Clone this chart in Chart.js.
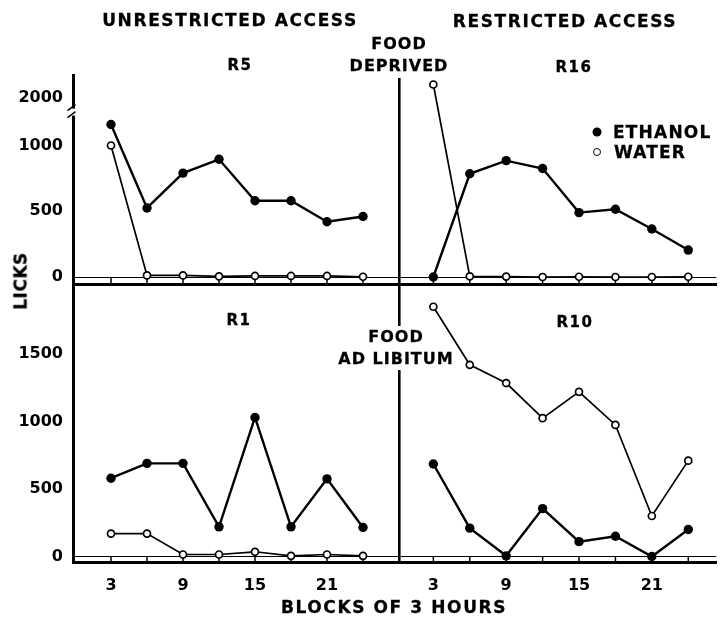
<!DOCTYPE html>
<html>
<head>
<meta charset="utf-8">
<script src="https://cdn.jsdelivr.net/npm/chart.js"></script>
<style>
html,body{margin:0;padding:0;background:#fff;}
#wrap{position:relative;width:722px;height:624px;overflow:hidden;background:#fff;}
canvas{position:absolute;left:0;top:0;}
.t{position:absolute;font-family:"DejaVu Sans",sans-serif;font-weight:bold;color:#000;white-space:nowrap;transform:translate(-50%,-50%);line-height:1;-webkit-text-stroke:0.3px #000;}
.big{font-size:17px;letter-spacing:1.6px;}
.mid{font-size:16px;letter-spacing:1px;}
.lab{font-size:15px;letter-spacing:1.5px;}
.leg{position:absolute;font-family:"DejaVu Sans",sans-serif;font-weight:bold;font-size:17px;letter-spacing:1.2px;color:#000;white-space:nowrap;transform:translateY(-50%);line-height:1;-webkit-text-stroke:0.3px #000;}
.dot{position:absolute;border-radius:50%;box-sizing:border-box;transform:translate(-50%,-50%);}
.gap{position:absolute;background:#fff;}
</style>
</head>
<body>
<div id="wrap">
<canvas id="cTL" width="722" height="624"></canvas>
<canvas id="cTR" width="722" height="624"></canvas>
<canvas id="cBL" width="722" height="624"></canvas>
<canvas id="cBR" width="722" height="624"></canvas>

<div class="gap" style="left:395px;top:326px;width:9px;height:44px;"></div>

<div class="t big" style="left:230px;top:20px;">UNRESTRICTED ACCESS</div>
<div class="t big" style="left:565px;top:21px;">RESTRICTED ACCESS</div>
<div class="t mid" style="left:399px;top:55px;text-align:center;line-height:22px;">FOOD<br>DEPRIVED</div>
<div class="t lab" style="left:240px;top:65px;">R5</div>
<div class="t lab" style="left:574px;top:67px;">R16</div>
<div class="dot" style="left:597px;top:132px;width:9px;height:9px;background:#000;"></div>
<div class="leg" style="left:613px;top:132px;">ETHANOL</div>
<div class="dot" style="left:597px;top:152px;width:8px;height:8px;background:#fff;border:1.6px solid #000;"></div>
<div class="leg" style="left:614px;top:152px;">WATER</div>
<div class="t" style="left:21px;top:281px;font-size:17px;letter-spacing:0.5px;transform:translate(-50%,-50%) rotate(-90deg);">LICKS</div>
<div class="t lab" style="left:239px;top:320px;">R1</div>
<div class="t mid" style="left:396px;top:347px;text-align:center;line-height:21.5px;">FOOD<br>AD LIBITUM</div>
<div class="t lab" style="left:575px;top:322px;">R10</div>
<div class="t big" style="left:394px;top:607px;">BLOCKS OF 3 HOURS</div>
</div>

<script>
// ---- data ----
const hours = [3, 6, 9, 12, 15, 18, 21, 24];
const labelledHours = [3, 9, 15, 21];
const yTicksTop = [0, 500, 1000, 2000];
const yTicksBottom = [0, 500, 1000, 1500];

const r5Ethanol  = [1160, 525, 790, 895, 580, 580, 420, 460];
const r5Water    = [1000, 12, 12, 5, 8, 8, 8, 2];
const r16Ethanol = [0, 785, 885, 825, 490, 515, 365, 205];
const r16Water   = [2105, 5, 3, 0, 2, 0, 0, 2];
const r1Ethanol  = [580, 690, 690, 220, 1030, 220, 575, 215];
const r1Water    = [170, 170, 15, 15, 35, 5, 15, 5];
const r10Ethanol = [685, 210, 5, 355, 110, 150, 0, 200];
const r10Water   = [1850, 1420, 1285, 1025, 1220, 975, 300, 710];

// ---- axis with a break (values between from..to are removed) ----
class BrokenLinearScale extends Chart.LinearScale {
  static id = 'brokenLinear';
  _fold(v) {
    const b = this.options.brk;
    if (!b || v === null || v === undefined) return v;
    const gap = b.to - b.from;
    if (v >= b.to) return v - gap;
    if (v > b.from) return b.from;
    return v;
  }
  getPixelForValue(v) { return super.getPixelForValue(this._fold(v)); }
}
Chart.register(BrokenLinearScale);

const FONT = {family: 'DejaVu Sans', weight: 'bold', size: 16};

const xTickMarks = {
  id: 'xTickMarks',
  beforeDatasetsDraw(chart) {
    const {ctx, chartArea, scales: {x, y}} = chart;
    const y0 = y.getPixelForValue(0);
    ctx.save();
    ctx.strokeStyle = '#000';
    ctx.lineWidth = 1.5;
    for (const h of hours) {
      const px = x.getPixelForValue(h);
      ctx.beginPath();
      ctx.moveTo(px, y0);
      ctx.lineTo(px, chartArea.bottom);
      ctx.stroke();
    }
    ctx.restore();
  }
};

const breakMarks = {
  id: 'breakMarks',
  afterDraw(chart) {
    const {ctx, chartArea, scales: {y}} = chart;
    const yb = y.getPixelForValue(1250);
    const x0 = chartArea.left - 1.5;
    ctx.save();
    ctx.fillStyle = '#fff';
    ctx.fillRect(x0 - 4, yb - 4, 8, 7);
    ctx.strokeStyle = '#000';
    ctx.lineWidth = 1.5;
    ctx.beginPath();
    ctx.moveTo(x0 - 4, yb - 2); ctx.lineTo(x0 + 4, yb - 8);
    ctx.moveTo(x0 - 4, yb + 5); ctx.lineTo(x0 + 4, yb - 1);
    ctx.stroke();
    ctx.restore();
  }
};

function panel(id, o) {
  const XH = 40;
  const plugins = [xTickMarks];
  if (o.brk && o.showY) plugins.push(breakMarks);
  return new Chart(document.getElementById(id), {
    type: 'line',
    data: {
      datasets: [
        {
          label: 'WATER',
          data: hours.map((h, i) => ({x: h, y: o.water[i]})),
          borderColor: '#000', borderWidth: 1.7,
          pointRadius: 3.5, pointBorderWidth: 1.7,
          pointBackgroundColor: '#fff', pointBorderColor: '#000',
          tension: 0, order: 1
        },
        {
          label: 'ETHANOL',
          data: hours.map((h, i) => ({x: h, y: o.ethanol[i]})),
          borderColor: '#000', borderWidth: 2.4,
          pointRadius: 4.7, pointBorderWidth: 0,
          pointBackgroundColor: '#000', pointBorderColor: '#000',
          tension: 0, order: 2
        }
      ]
    },
    options: {
      responsive: false, animation: false, events: [],
      layout: {padding: {
        left: o.showY ? 0 : o.left,
        top: o.top,
        right: 722 - o.right,
        bottom: 624 - o.bottom - (o.showX ? XH : 0)
      }},
      plugins: {legend: {display: false}, tooltip: {enabled: false}},
      scales: {
        x: {
          type: 'linear', min: o.xMin, max: o.xMax, bounds: 'data',
          afterBuildTicks: s => { s.ticks = hours.map(v => ({value: v})); },
          afterFit: s => { s.height = o.showX ? XH : 0; },
          grid: {display: false},
          border: {display: true, color: '#000', width: 3},
          ticks: {
            display: o.showX, autoSkip: false, maxRotation: 0, padding: 6,
            color: '#000', font: FONT,
            callback: v => labelledHours.includes(v) ? String(v) : ''
          }
        },
        y: {
          type: o.brk ? 'brokenLinear' : 'linear', brk: o.brk,
          min: o.yMin, max: o.yMax, bounds: 'data',
          afterBuildTicks: s => { s.ticks = o.yTicks.map(v => ({value: v})); },
          afterFit: s => { s.width = o.showY ? o.left : 0; },
          grid: {
            display: true, drawTicks: false, lineWidth: 1,
            color: c => (c.tick && c.tick.value === 0) ? '#000' : 'rgba(0,0,0,0)'
          },
          border: {display: true, color: '#000', width: o.showY ? 3 : 2.6},
          ticks: {display: o.showY, padding: 10, color: '#000', font: FONT, callback: v => String(v)}
        }
      }
    },
    plugins
  });
}

// top: value 0 at y=277, 0.1315 px per lick; break removes 1250..1891
const brkTop = {from: 1250, to: 1891};
panel('cTL', {left: 73, right: 399, top: 75, bottom: 284, xMin: -0.1667, xMax: 27.0,
  yMin: -53.2, yMax: 1536, yTicks: yTicksTop, brk: brkTop, showY: true, showX: false,
  ethanol: r5Ethanol, water: r5Water});
panel('cTR', {left: 399, right: 722, top: 79, bottom: 284, xMin: 0.17, xMax: 26.31,
  yMin: -53.2, yMax: 1506, yTicks: yTicksTop, brk: brkTop, showY: false, showX: false,
  ethanol: r16Ethanol, water: r16Water});
// bottom: value 0 at y=556.5, 0.135 px per lick
panel('cBL', {left: 73, right: 399, top: 284, bottom: 562, xMin: -0.1667, xMax: 27.0,
  yMin: -40.7, yMax: 2018.5, yTicks: yTicksBottom, brk: null, showY: true, showX: true,
  ethanol: r1Ethanol, water: r1Water});
panel('cBR', {left: 399, right: 722, top: 284, bottom: 562, xMin: 0.17, xMax: 26.31,
  yMin: -40.7, yMax: 2018.5, yTicks: yTicksBottom, brk: null, showY: false, showX: true,
  ethanol: r10Ethanol, water: r10Water});
</script>
</body>
</html>
